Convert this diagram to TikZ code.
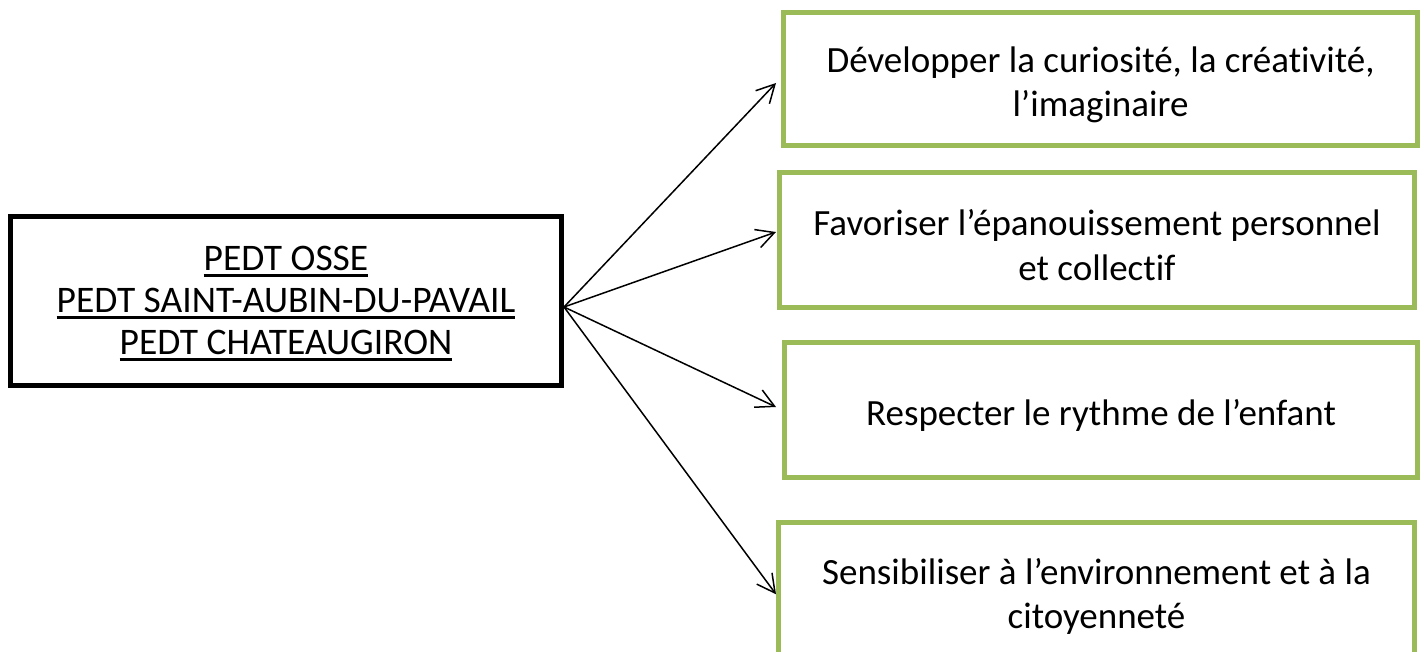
\documentclass[tikz,border=0pt]{standalone}
\usepackage{fontspec}
\setmainfont{Carlito}[Ligatures=NoCommon]
\usetikzlibrary{arrows.meta}
\definecolor{olivegreen}{HTML}{9BBB59}
\newcommand{\undl}[1]{\setbox0\hbox{#1}\rlap{\rule[-7pt]{\wd0}{2.8pt}}\box0}
\newcommand{\topstrut}[1]{\rule{0pt}{#1}}
\begin{document}
\begin{tikzpicture}[x=1pt,y=-1pt,
  every node/.style={font=\fontsize{37}{44.5}\selectfont, align=center, inner sep=0pt},
  leftbox/.style={draw=black, line width=5pt, minimum width=551pt, minimum height=169pt,
    font=\fontsize{37.5}{42}\selectfont},
  goalbox/.style={draw=olivegreen, line width=5pt},
  link/.style={-{Straight Barb[length=18pt,width=19pt]}, line width=1.5pt}]
\useasboundingbox (0,0) rectangle (1424,652);
\clip (0,0) rectangle (1424,652);
\node[leftbox] (L) at (286,301)
  {\topstrut{29pt}\undl{PEDT OSSE}\\ \undl{PEDT SAINT-AUBIN-DU-PAVAIL}\\ \undl{PEDT CHATEAUGIRON}};
\node[goalbox, minimum width=634pt, minimum height=133pt] (B1) at (1100.5,79)
  {\topstrut{37pt}Développer la curiosité, la créativité,\\ l’imaginaire};
\node[goalbox, minimum width=635pt, minimum height=135pt] (B2) at (1097,240)
  {\topstrut{36pt}Favoriser l’épanouissement personnel\\ et collectif};
\node[goalbox, minimum width=633pt, minimum height=135pt] (B3) at (1101,410)
  {\topstrut{36pt}Respecter le rythme de l’enfant};
\node[goalbox, minimum width=636pt, minimum height=137.5pt] (B4) at (1096.5,591.25)
  {\topstrut{36pt}Sensibiliser à l’environnement et à la\\ citoyenneté};
\draw[link] ([yshift=-6pt]L.east) -- ([xshift=-5pt,yshift=-4pt]B1.west);
\draw[link] ([yshift=-6pt]L.east) -- ([xshift=-1pt,yshift=8pt]B2.west);
\draw[link] ([yshift=-6pt]L.east) -- ([xshift=-6pt,yshift=3pt]B3.west);
\draw[link] ([yshift=-6pt]L.east) -- ([yshift=-3pt]B4.west);
\end{tikzpicture}
\end{document}
